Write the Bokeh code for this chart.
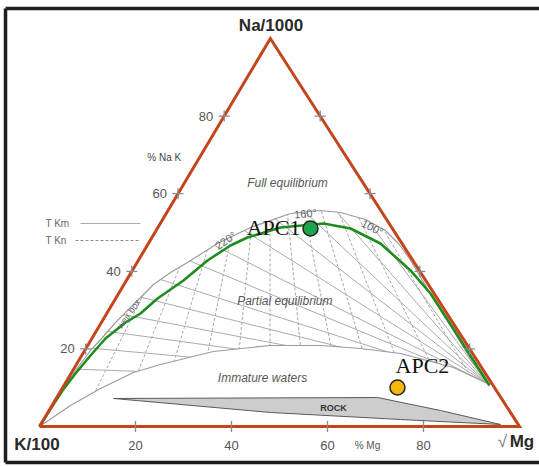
import numpy as np
from bokeh.plotting import figure
from bokeh.models import Range1d
from bokeh.core.properties import value
from bokeh.embed import file_html
from bokeh.resources import INLINE

# Diagram units: X runs along the base (0 = K/100 corner, 100 = sqrt(Mg) corner),
# Y is the height in % Na (0 = base, 100 = Na/1000 apex).
APEX_X = 48.1

# ---------------- data ----------------
tick_values = [20, 40, 60, 80]

samples = ["APC1", "APC2"]
sample_x = [56.46, 74.58]
sample_y = [51.03, 10.05]
sample_colors = ["#1aa64c", "#f6b60c"]

# full-equilibrium curve (green)
green_x = [0, 2.5, 4.79, 7.50, 10.63, 13.75, 17.92, 21.04, 24.58, 30.00, 35.00, 39.79,
           43.33, 50.21, 59.17, 64.79, 71.04, 77.29, 81.46, 86.04, 90.42, 93.75]
green_y = [0, 4.90, 9.28, 13.66, 18.30, 22.68, 26.80, 29.12, 32.99, 37.63, 42.78, 46.65,
           48.71, 51.29, 52.32, 51.03, 47.16, 40.21, 34.28, 25.52, 17.01, 10.57]

# grey full-equilibrium isotherm curve
arc_x = [0, 2.9, 5.42, 8.13, 10.63, 13.13, 15.83, 18.96, 23.75, 27.29, 30.83, 37.08, 43.96,
         52.29, 58.54, 62.71, 67.92, 72.08, 74.79, 77.08, 81.04, 85.63, 90.00, 93.54]
arc_y = [0, 5.67, 10.82, 15.46, 19.59, 22.94, 26.80, 30.67, 36.60, 39.69, 42.27, 47.16, 51.29,
         54.90, 55.67, 55.15, 53.35, 50.52, 47.16, 43.30, 35.05, 26.03, 17.01, 10.82]

# immature-waters boundary
imm_x = [0, 6.46, 12.71, 19.58, 25.21, 36.25, 48.13, 58.54, 66.88, 75.21, 86.25, 93.33]
imm_y = [0, 5.41, 9.79, 13.92, 15.98, 19.33, 20.88, 20.88, 20.10, 18.81, 15.21, 11.08]

# rock field
rock_x = [15.42, 70.42, 83.54, 96.04, 75.21, 48.13]
rock_y = [7.22, 7.47, 4.12, 0.52, 1.80, 3.61]

# T Kn isotherms (dashed): base intercepts of rays from the Na apex
tkn_base = [8, 16, 24, 32, 40, 48, 56, 64, 72, 80, 88, 96]
# T Km isotherms (solid): rays from the convergence point to the left edge (% Na there)
tkm_focus = (93.4, 11.0)
tkm_left = [14.8, 20.3, 24.9, 29.6, 34.7, 40.2, 47.1, 53.4, 60.9, 68.8, 76.7, 85.0, 93.0]

# ---------------- figure ----------------
p = figure(width=539, height=466, x_range=Range1d(-8.125, 104.17), y_range=Range1d(-10.31, 109.79),
           output_backend="svg", toolbar_location=None, x_axis_type=None, y_axis_type=None,
           min_border=0)
p.outline_line_color = None
p.background_fill_color = "white"
p.border_fill_color = "white"
for g in p.grid:
    g.visible = False

xs0, xs1 = p.x_range.start, p.x_range.end
ys0, ys1 = p.y_range.start, p.y_range.end

# outer frame (left, top, bottom)
fl, ft, fb = -7.08, 107.73, -9.28
p.multi_line(xs=[[fl, fl], [fl, xs1 + 5], [fl, xs1 + 5]],
             ys=[[fb, ft], [ft, ft], [fb, fb]],
             line_color="#1e1e1e", line_width=3.5)

def left_edge_x(y):
    return APEX_X * np.asarray(y, dtype=float) / 100.0

def right_edge_x(y):
    return 100.0 - (100.0 - APEX_X) * np.asarray(y, dtype=float) / 100.0

# grid of isotherms (drawn full, then masked to the partial-equilibrium band)
p.multi_line(xs=[[APEX_X, b] for b in tkn_base], ys=[[100, 0] for _ in tkn_base],
             line_color="#a6a6a6", line_width=1, line_dash="3 2")
p.multi_line(xs=[[tkm_focus[0], float(left_edge_x(t))] for t in tkm_left],
             ys=[[tkm_focus[1], t] for t in tkm_left],
             line_color="#ababab", line_width=1)

# masks
mask_top_x = arc_x + [float(right_edge_x(arc_y[-1])), APEX_X]
mask_top_y = arc_y + [arc_y[-1], 100]
p.patch(mask_top_x, mask_top_y, fill_color="white", line_color=None)
mask_bot_x = imm_x + [float(right_edge_x(imm_y[-1])), 100]
mask_bot_y = imm_y + [imm_y[-1], 0]
p.patch(mask_bot_x, mask_bot_y, fill_color="white", line_color=None)

# grey curves
p.line(arc_x, arc_y, line_color="#9c9c9c", line_width=1.2)
p.line(imm_x, imm_y, line_color="#9c9c9c", line_width=1.2)

# rock field
p.patch(rock_x, rock_y, fill_color="#cdcdcd", line_color="#5a5a5a", line_width=1)

# green equilibrium line
p.line(green_x, green_y, line_color="#1e8c1e", line_width=2.6)

# triangle
p.line([0, 100, APEX_X, 0], [0, 0, 100, 0], line_color="#c4441c", line_width=3,
       line_join="miter")

# ticks
tv = np.array(tick_values, dtype=float)
p.scatter(left_edge_x(tv), tv, marker="cross", size=11, line_color="#8a8a8a", line_width=1.3)
p.scatter(right_edge_x(tv), tv, marker="cross", size=11, line_color="#8a8a8a", line_width=1.3)
p.scatter(tv, np.zeros_like(tv), marker="dash", angle=np.pi / 2, size=11,
          line_color="#8a8a8a", line_width=1.3)

SANS = "Liberation Sans"

def txt(x, y, s, size, color="#555555", style="normal", align="center",
        baseline="middle", angle=0.0, font=SANS):
    p.text(x=list(x) if hasattr(x, "__len__") else [x],
           y=list(y) if hasattr(y, "__len__") else [y],
           text=list(s) if isinstance(s, (list, tuple)) else [s],
           text_font=value(font), text_font_size=value(f"{size}px"),
           text_color=color, text_font_style=style, text_align=align,
           text_baseline=baseline, angle=np.radians(angle))

# tick labels
lab = [str(v) for v in tick_values]
txt(list(left_edge_x(tv) - 2.3), list(tv), lab, 13, align="right")
txt(list(tv), [-4.9] * len(tv), lab, 13)
txt(68.33, -4.9, "% Mg", 10, color="#555555")
txt(26.0, 69.33, "% Na K", 10, color="#444444")

# corner labels
txt(48.23, 103.35, "Na/1000", 17, color="#2a2a2a", style="bold")
txt(-0.52, -4.64, "K/100", 17, color="#2a2a2a", style="bold")
txt(100.52, -3.87, "Mg", 17, color="#2a2a2a", style="bold")
txt(96.46, -3.87, "\u221a", 17, color="#777777")

# legend
txt(1.25, 52.32, "T Km", 10, color="#666666", align="left")
txt(1.25, 47.94, "T Kn", 10, color="#666666", align="left")
p.line([8.54, 21.04], [52.32, 52.32], line_color="#aaaaaa", line_width=1)
p.line([7.5, 20.63], [47.94, 47.94], line_color="#888888", line_width=1, line_dash="3 2")

# field labels
txt(51.67, 62.63, "Full equilibrium", 12, style="italic")
txt(51.46, 32.22, "Partial  equilibrium", 12, style="italic")
txt(46.46, 12.37, "Immature waters", 12, style="italic")
txt(61.25, 4.64, "ROCK", 9, color="#333333", style="bold")

# isotherm labels
txt(38.75, 47.94, "220\u00b0", 11, color="#666666", angle=33)
txt(55.42, 54.90, "160\u00b0", 11, color="#666666", angle=5)
txt(69.38, 51.29, "100\u00b0", 11, color="#666666", angle=-28)
txt(18.6, 29.0, "weir box", 9, color="#666666", angle=55)

# samples
p.scatter(sample_x, sample_y, size=15, fill_color=sample_colors, line_color="#222222",
          line_width=1.5)
txt(54.38, 51.29, samples[0], 22, color="#111111", align="right", font="Liberation Serif")
txt(74.17, 15.72, samples[1], 22, color="#111111", align="left", font="Liberation Serif")

open("out.html", "w").write(file_html(p, INLINE))
